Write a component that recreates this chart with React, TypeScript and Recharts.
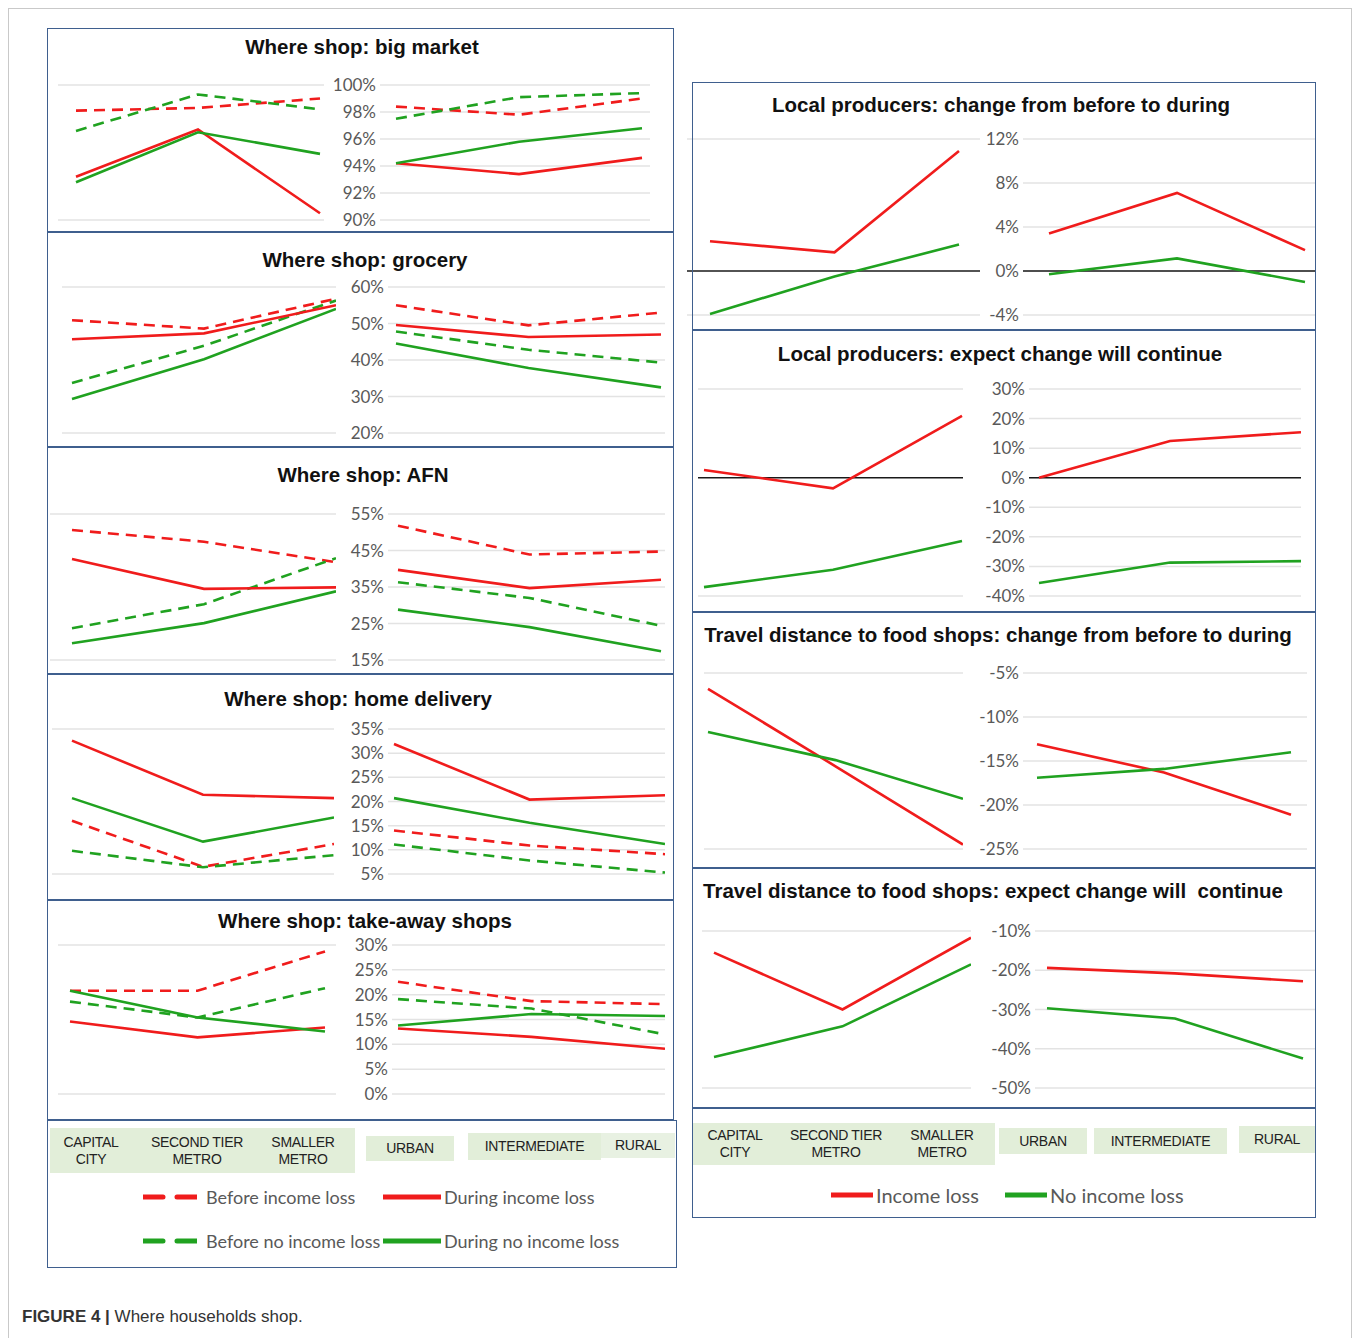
import React from 'react';
import { LineChart, Line, XAxis, YAxis, CartesianGrid, ReferenceLine } from 'recharts';

const RED = '#f01c1c';
const GREEN = '#20a220';

const metroCats = ['CAPITAL CITY', 'SECOND TIER METRO', 'SMALLER METRO'];
const areaCats = ['URBAN', 'INTERMEDIATE', 'RURAL'];

// Where shop: big market (metro x3, then urban/intermediate/rural)
const bigMarketBeforeIncomeLoss = [98.1, 98.3, 99.0, 98.4, 97.8, 99.0];
const bigMarketBeforeNoIncomeLoss = [96.6, 99.3, 98.2, 97.5, 99.1, 99.4];
const bigMarketDuringIncomeLoss = [93.2, 96.7, 90.5, 94.2, 93.4, 94.6];
const bigMarketDuringNoIncomeLoss = [92.8, 96.5, 94.9, 94.2, 95.8, 96.8];
const bigMarketTicks = [90, 92, 94, 96, 98, 100];

// Where shop: grocery
const groceryBeforeIncomeLoss = [50.9, 48.6, 56.8, 55.0, 49.5, 53.0];
const groceryBeforeNoIncomeLoss = [33.7, 43.9, 56.3, 47.8, 42.8, 39.3];
const groceryDuringIncomeLoss = [45.7, 47.3, 55.0, 49.6, 46.3, 47.0];
const groceryDuringNoIncomeLoss = [29.3, 40.2, 54.0, 44.5, 37.8, 32.5];
const groceryTicks = [20, 30, 40, 50, 60];

// Where shop: AFN
const afnBeforeIncomeLoss = [50.6, 47.4, 41.8, 51.8, 43.9, 44.7];
const afnBeforeNoIncomeLoss = [23.7, 30.3, 42.9, 36.3, 32.0, 24.4];
const afnDuringIncomeLoss = [42.7, 34.5, 34.9, 39.7, 34.7, 37.0];
const afnDuringNoIncomeLoss = [19.6, 25.1, 33.8, 28.8, 24.0, 17.4];
const afnTicks = [15, 25, 35, 45, 55];

// Where shop: home delivery
const homeBeforeIncomeLoss = [16.0, 6.5, 11.2, 14.0, 10.9, 9.1];
const homeBeforeNoIncomeLoss = [9.8, 6.4, 8.9, 11.1, 7.8, 5.3];
const homeDuringIncomeLoss = [32.6, 21.4, 20.7, 31.9, 20.4, 21.3];
const homeDuringNoIncomeLoss = [20.7, 11.7, 16.7, 20.7, 15.6, 11.2];
const homeTicks = [5, 10, 15, 20, 25, 30, 35];

// Where shop: take-away shops
const takeAwayBeforeIncomeLoss = [20.8, 20.8, 28.7, 22.6, 18.7, 18.1];
const takeAwayBeforeNoIncomeLoss = [18.6, 15.4, 21.3, 19.1, 17.2, 12.0];
const takeAwayDuringIncomeLoss = [14.6, 11.4, 13.4, 13.2, 11.5, 9.1];
const takeAwayDuringNoIncomeLoss = [20.8, 15.4, 12.6, 13.8, 16.1, 15.7];
const takeAwayTicks = [0, 5, 10, 15, 20, 25, 30];

// Local producers: change from before to during
const localChangeIncomeLoss = [2.7, 1.7, 10.9, 3.4, 7.1, 1.9];
const localChangeNoIncomeLoss = [-3.9, -0.5, 2.4, -0.3, 1.15, -1.0];
const localChangeTicks = [-4, 0, 4, 8, 12];

// Local producers: expect change will continue
const localExpectIncomeLoss = [2.6, -3.6, 20.9, 0, 12.4, 15.4];
const localExpectNoIncomeLoss = [-37, -31.1, -21.4, -35.6, -28.7, -28.2];
const localExpectTicks = [-40, -30, -20, -10, 0, 10, 20, 30];

// Travel distance: change from before to during
const travelChangeIncomeLoss = [-6.8, -15.6, -24.5, -13.1, -16.3, -21.1];
const travelChangeNoIncomeLoss = [-11.7, -14.9, -19.3, -16.9, -15.9, -14.0];
const travelChangeTicks = [-25, -20, -15, -10, -5];

// Travel distance: expect change will continue
const travelExpectIncomeLoss = [-15.5, -30, -11.7, -19.4, -20.8, -22.8];
const travelExpectNoIncomeLoss = [-42.1, -34.3, -18.5, -29.7, -32.3, -42.5];
const travelExpectTicks = [-50, -40, -30, -20, -10];

type Rec = Record<string, any>;

function rows(cats: string[], off: number, s: Record<string, number[]>) {
  return cats.map((c, i) => {
    const r: Rec = { cat: c };
    Object.keys(s).forEach((k) => { r[k] = s[k][off + i]; });
    return r;
  });
}

const shopSeries = [
  { key: 'bi', color: RED, dashed: true },
  { key: 'bn', color: GREEN, dashed: true },
  { key: 'di', color: RED, dashed: false },
  { key: 'dn', color: GREEN, dashed: false },
];
const changeSeries = [
  { key: 'il', color: RED, dashed: false },
  { key: 'nl', color: GREEN, dashed: false },
];

const BORDER = '#3f5f8e';
const TICK = { fill: '#595959', fontSize: 17, fontFamily: 'Lato, "Liberation Sans", sans-serif' };

function SubChart(props: Rec) {
  const { x0, x1, yTop, yBot, ticks, data, series, showAxis, pl, pr, zero } = props;
  const M = 14;
  const axisW = showAxis ? 70 : 0;
  const width = x1 - x0 + axisW;
  const height = yBot - yTop + 2 * M;
  return (
    <div style={{ position: 'absolute', left: x0 - axisW, top: yTop - M }}>
      <LineChart width={width} height={height} data={data} margin={{ top: M, bottom: M, left: 0, right: 0 }}>
        <CartesianGrid vertical={false} stroke="#e3e3e3" strokeWidth={1.5} />
        <XAxis dataKey="cat" hide padding={{ left: pl, right: pr }} />
        <YAxis
          type="number"
          domain={[ticks[0], ticks[ticks.length - 1]]}
          ticks={ticks}
          interval={0}
          width={axisW}
          axisLine={false}
          tickLine={false}
          tickSize={4}
          tickMargin={0}
          tick={showAxis ? TICK : false}
          tickFormatter={(v: number) => `${v}%`}
        />
        {zero ? <ReferenceLine y={0} stroke="#1a1a1a" strokeWidth={1.5} /> : null}
        {series.map((s: Rec) => (
          <Line
            key={s.key}
            dataKey={s.key}
            type="linear"
            stroke={s.color}
            strokeWidth={2.6}
            strokeDasharray={s.dashed ? '11 7' : undefined}
            dot={false}
            activeDot={false}
            isAnimationActive={false}
          />
        ))}
      </LineChart>
    </div>
  );
}

const leftPanels = [
  {
    title: 'Where shop: big market', box: [47, 28, 627, 204], tx: 362, ty: 47, yTop: 85, yBot: 220, ticks: bigMarketTicks,
    s: { bi: bigMarketBeforeIncomeLoss, bn: bigMarketBeforeNoIncomeLoss, di: bigMarketDuringIncomeLoss, dn: bigMarketDuringNoIncomeLoss },
    L: { x0: 58, x1: 324, pl: 18, pr: 4 }, R: { x0: 380, x1: 650, pl: 16, pr: 8 },
  },
  {
    title: 'Where shop: grocery', box: [47, 232, 627, 215], tx: 365, ty: 260, yTop: 287, yBot: 433, ticks: groceryTicks,
    s: { bi: groceryBeforeIncomeLoss, bn: groceryBeforeNoIncomeLoss, di: groceryDuringIncomeLoss, dn: groceryDuringNoIncomeLoss },
    L: { x0: 62, x1: 336, pl: 10, pr: 0 }, R: { x0: 388, x1: 665, pl: 8, pr: 4 },
  },
  {
    title: 'Where shop: AFN', box: [47, 447, 627, 227], tx: 363, ty: 475, yTop: 514, yBot: 660, ticks: afnTicks,
    s: { bi: afnBeforeIncomeLoss, bn: afnBeforeNoIncomeLoss, di: afnDuringIncomeLoss, dn: afnDuringNoIncomeLoss },
    L: { x0: 50, x1: 336, pl: 22, pr: 0 }, R: { x0: 388, x1: 665, pl: 10, pr: 4 },
  },
  {
    title: 'Where shop: home delivery', box: [47, 674, 627, 226], tx: 358, ty: 699, yTop: 729, yBot: 874, ticks: homeTicks,
    s: { bi: homeBeforeIncomeLoss, bn: homeBeforeNoIncomeLoss, di: homeDuringIncomeLoss, dn: homeDuringNoIncomeLoss },
    L: { x0: 52, x1: 334, pl: 20, pr: 0 }, R: { x0: 388, x1: 665, pl: 6, pr: 0 },
  },
  {
    title: 'Where shop: take-away shops', box: [47, 900, 627, 220], tx: 365, ty: 921, yTop: 945, yBot: 1094, ticks: takeAwayTicks,
    s: { bi: takeAwayBeforeIncomeLoss, bn: takeAwayBeforeNoIncomeLoss, di: takeAwayDuringIncomeLoss, dn: takeAwayDuringNoIncomeLoss },
    L: { x0: 58, x1: 336, pl: 12, pr: 11 }, R: { x0: 392, x1: 665, pl: 6, pr: 0 },
  },
];

const rightPanels = [
  {
    title: 'Local producers: change from before to during', box: [692, 82, 624, 248], tx: 1001, ty: 105, yTop: 139, yBot: 315, ticks: localChangeTicks, zero: true,
    s: { il: localChangeIncomeLoss, nl: localChangeNoIncomeLoss },
    L: { x0: 687, x1: 980, pl: 23, pr: 21 }, R: { x0: 1023, x1: 1316, pl: 26, pr: 11 },
  },
  {
    title: 'Local producers: expect change will continue', box: [692, 330, 624, 282], tx: 1000, ty: 354, yTop: 389, yBot: 596, ticks: localExpectTicks, zero: true,
    s: { il: localExpectIncomeLoss, nl: localExpectNoIncomeLoss },
    L: { x0: 698, x1: 963, pl: 6, pr: 1 }, R: { x0: 1029, x1: 1301, pl: 10, pr: 0 },
  },
  {
    title: 'Travel distance to food shops: change from before to during', box: [692, 612, 624, 256], tx: 998, ty: 635, yTop: 673, yBot: 849, ticks: travelChangeTicks, zero: false,
    s: { il: travelChangeIncomeLoss, nl: travelChangeNoIncomeLoss },
    L: { x0: 704, x1: 963, pl: 4, pr: 0 }, R: { x0: 1023, x1: 1307, pl: 14, pr: 16 },
  },
  {
    title: 'Travel distance to food shops: expect change will  continue', box: [692, 868, 624, 240], tx: 993, ty: 891, yTop: 931, yBot: 1088, ticks: travelExpectTicks, zero: false,
    s: { il: travelExpectIncomeLoss, nl: travelExpectNoIncomeLoss },
    L: { x0: 702, x1: 971, pl: 12, pr: 0 }, R: { x0: 1035, x1: 1315, pl: 12, pr: 12 },
  },
];

function Box({ b }: { b: number[] }) {
  return (
    <div style={{ position: 'absolute', left: b[0], top: b[1], width: b[2], height: b[3], border: `1.5px solid ${BORDER}`, boxSizing: 'border-box' }} />
  );
}

function Title({ text, x, y }: { text: string; x: number; y: number }) {
  return (
    <div style={{ position: 'absolute', left: x - 400, top: y - 13, width: 800, lineHeight: '26px', textAlign: 'center', fontFamily: '"Liberation Sans", Arial, sans-serif', fontWeight: 700, fontSize: 20.5, color: '#111', whiteSpace: 'pre' }}>
      {text}
    </div>
  );
}

function CatLabel({ text, x, y, w, h }: { text: string; x: number; y: number; w: number; h: number }) {
  let lines: string[] = [text];
  if (text === 'CAPITAL CITY') lines = ['CAPITAL', 'CITY'];
  else if (text === 'SECOND TIER METRO') lines = ['SECOND TIER', 'METRO'];
  else if (text === 'SMALLER METRO') lines = ['SMALLER', 'METRO'];
  return (
    <div style={{ position: 'absolute', left: x, top: y, width: w, height: h, display: 'flex', flexDirection: 'column', justifyContent: 'center', alignItems: 'center', fontFamily: '"Liberation Sans", Arial, sans-serif', fontSize: 14, lineHeight: '17px', color: '#222', letterSpacing: -0.3 }}>
      {lines.map((l) => <div key={l}>{l}</div>)}
    </div>
  );
}

const BG = '#e2eed9';

function LegendItem({ x, y, color, dashed, text, lineW, fs }: Rec) {
  return (
    <div style={{ position: 'absolute', left: x, top: y - 14, height: 28, display: 'flex', alignItems: 'center', whiteSpace: 'nowrap' }}>
      <svg width={lineW} height={10} style={{ display: 'block' }}>
        <line x1={0} y1={5} x2={lineW} y2={5} stroke={color} strokeWidth={5} strokeDasharray={dashed ? '20 14' : undefined} strokeLinecap="round" />
      </svg>
      <span style={{ marginLeft: dashed ? 9 : 3, fontFamily: 'Lato, sans-serif', fontSize: fs || 18, color: '#595959' }}>{text}</span>
    </div>
  );
}

export default function App() {
  return (
    <div style={{ position: 'absolute', left: 0, top: 0, width: 1360, height: 1338, background: '#fff', overflow: 'hidden', fontFamily: '"Liberation Sans", Arial, sans-serif' }}>
      <div style={{ position: 'absolute', left: 8, top: 8, width: 1344, height: 1345, border: '1px solid #c9c9c9', boxSizing: 'border-box' }} />

      {leftPanels.map((p) => {
        const left = rows(metroCats, 0, p.s);
        const right = rows(areaCats, 3, p.s);
        return (
          <React.Fragment key={p.title}>
            <SubChart {...p.L} yTop={p.yTop} yBot={p.yBot} ticks={p.ticks} data={left} series={shopSeries} showAxis={false} />
            <SubChart {...p.R} yTop={p.yTop} yBot={p.yBot} ticks={p.ticks} data={right} series={shopSeries} showAxis={true} />
            <Title text={p.title} x={p.tx} y={p.ty} />
            <Box b={p.box} />
          </React.Fragment>
        );
      })}

      {rightPanels.map((p) => {
        const left = rows(metroCats, 0, p.s);
        const right = rows(areaCats, 3, p.s);
        return (
          <React.Fragment key={p.title}>
            <SubChart {...p.L} yTop={p.yTop} yBot={p.yBot} ticks={p.ticks} data={left} series={changeSeries} showAxis={false} zero={p.zero} />
            <SubChart {...p.R} yTop={p.yTop} yBot={p.yBot} ticks={p.ticks} data={right} series={changeSeries} showAxis={true} zero={p.zero} />
            <Title text={p.title} x={p.tx} y={p.ty} />
            <Box b={p.box} />
          </React.Fragment>
        );
      })}

      {/* Left legend area */}
      <Box b={[47, 1120, 630, 148]} />
      <div style={{ position: 'absolute', left: 50, top: 1128, width: 305, height: 45, background: BG }} />
      <div style={{ position: 'absolute', left: 366, top: 1136, width: 88, height: 25, background: BG }} />
      <div style={{ position: 'absolute', left: 468, top: 1133, width: 133, height: 27, background: BG }} />
      <div style={{ position: 'absolute', left: 601, top: 1133, width: 74, height: 25, background: '#e8f1e2' }} />
      <CatLabel text={metroCats[0]} x={51} y={1128} w={80} h={45} />
      <CatLabel text={metroCats[1]} x={142} y={1128} w={110} h={45} />
      <CatLabel text={metroCats[2]} x={258} y={1128} w={90} h={45} />
      <CatLabel text={areaCats[0]} x={366} y={1136} w={88} h={25} />
      <CatLabel text={areaCats[1]} x={468} y={1133} w={133} h={27} />
      <CatLabel text={areaCats[2]} x={601} y={1133} w={74} h={25} />
      <LegendItem x={143} y={1197} color={RED} dashed lineW={54} text="Before income loss" />
      <LegendItem x={383} y={1197} color={RED} lineW={58} text="During income loss" />
      <LegendItem x={143} y={1241} color={GREEN} dashed lineW={54} text="Before no income loss" />
      <LegendItem x={383} y={1241} color={GREEN} lineW={58} text="During no income loss" />

      {/* Right legend area */}
      <Box b={[692, 1108, 624, 110]} />
      <div style={{ position: 'absolute', left: 693, top: 1123, width: 302, height: 42, background: BG }} />
      <div style={{ position: 'absolute', left: 999, top: 1128, width: 88, height: 26, background: BG }} />
      <div style={{ position: 'absolute', left: 1094, top: 1128, width: 133, height: 26, background: BG }} />
      <div style={{ position: 'absolute', left: 1239, top: 1126, width: 76, height: 27, background: BG }} />
      <CatLabel text={metroCats[0]} x={695} y={1123} w={80} h={42} />
      <CatLabel text={metroCats[1]} x={781} y={1123} w={110} h={42} />
      <CatLabel text={metroCats[2]} x={897} y={1123} w={90} h={42} />
      <CatLabel text={areaCats[0]} x={999} y={1128} w={88} h={26} />
      <CatLabel text={areaCats[1]} x={1094} y={1128} w={133} h={26} />
      <CatLabel text={areaCats[2]} x={1239} y={1126} w={76} h={27} />
      <LegendItem x={831} y={1195} color={RED} lineW={42} text="Income loss" fs={20} />
      <LegendItem x={1005} y={1195} color={GREEN} lineW={42} text="No income loss" fs={20} />

      <div style={{ position: 'absolute', left: 22, top: 1307, fontFamily: '"Liberation Sans", Arial, sans-serif', fontSize: 17, color: '#333', whiteSpace: 'nowrap' }}>
        <b>FIGURE 4 |</b> Where households shop.
      </div>
    </div>
  );
}
